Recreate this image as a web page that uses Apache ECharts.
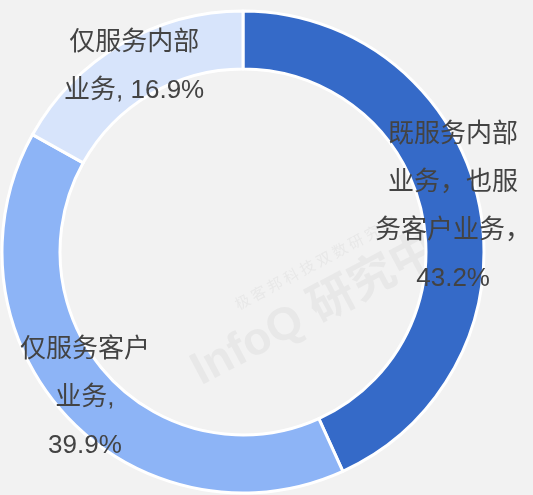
<!DOCTYPE html>
<html>
<head>
<meta charset="utf-8">
<script src="https://cdn.jsdelivr.net/npm/echarts@6/dist/echarts.min.js"></script>
<style>
  html, body { margin: 0; padding: 0; background: #f2f2f2; }
  #main { width: 533px; height: 495px; }
</style>
</head>
<body>
<div id="main"></div>
<script>
// 数据
var names = ['既服务内部业务，也服务客户业务', '仅服务客户业务', '仅服务内部业务'];
var values = [43.2, 39.9, 16.9];
// 标签换行后的文字
var labelLines = [
  ['既服务内部', '业务，也服', '务客户业务，', '43.2%'],
  ['仅服务客户', '业务,', '39.9%'],
  ['仅服务内部', '业务, 16.9%']
];
var colors = ['#356ac8', '#8db4f6', '#d7e4fb'];

var myChart = echarts.init(document.getElementById('main'));

var data = [];
for (var i = 0; i < names.length; i++) {
  data.push({ name: names[i], value: values[i], itemStyle: { color: colors[i] } });
}

option = {
  backgroundColor: '#f2f2f2',
  graphic: [
    {
      type: 'group',
      x: 335, y: 300,
      rotation: Math.PI * 28 / 180,
      children: [
        {
          type: 'text',
          style: {
            text: 'InfoQ 研究中心', x: 0, y: 0, align: 'center', verticalAlign: 'middle',
            fill: '#e8e8e8', font: 'bold 46px "Liberation Sans", "Noto Sans CJK SC"'
          }
        },
        {
          type: 'text',
          style: {
            text: '极 客 邦 科 技 双 数 研 究 院', x: 0, y: -42, align: 'center', verticalAlign: 'middle',
            fill: '#e8e8e8', font: '15px "Noto Sans CJK SC"'
          }
        }
      ]
    }
  ],
  series: [
    {
      type: 'pie',
      center: [243, 252],
      radius: [183, 241],
      startAngle: 90,
      clockwise: true,
      silent: true,
      itemStyle: { borderColor: '#ffffff', borderWidth: 3 },
      label: {
        show: true,
        position: 'inside',
        color: '#434343',
        fontSize: 26,
        lineHeight: 48,
        fontFamily: '"Liberation Sans", "Noto Sans CJK SC"',
        formatter: function (p) {
          return labelLines[p.dataIndex].join('\n');
        }
      },
      labelLine: { show: false },
      data: data
    }
  ]
};
myChart.setOption(option);
</script>
</body>
</html>
